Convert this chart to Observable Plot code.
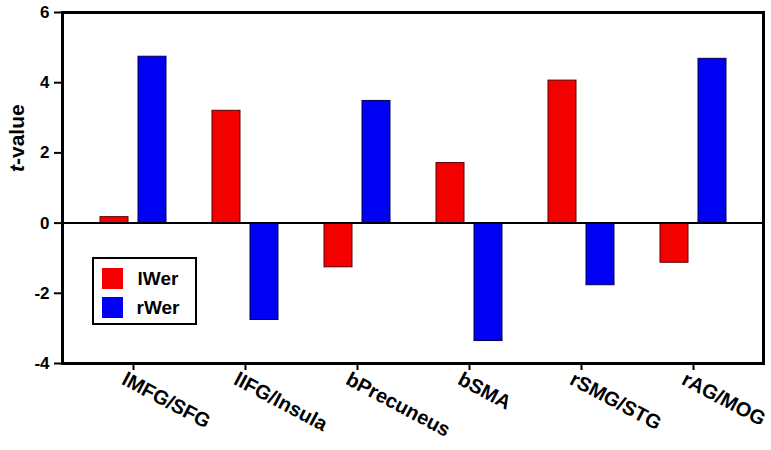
<!DOCTYPE html>
<html>
<head>
<meta charset="utf-8">
<script src="https://cdn.jsdelivr.net/npm/d3@7"></script>
<script src="https://cdn.jsdelivr.net/npm/@observablehq/plot@0.6"></script>
<style>
  html, body { margin: 0; padding: 0; background: #fff; }
  #wrap { position: relative; width: 771px; height: 450px; font-family: "Liberation Sans", Arial, sans-serif; }
  #legend { position: absolute; left: 92px; top: 257px; width: 101px; height: 64px; border: 2px solid #000; background: #fff; }
  .li { position: absolute; left: 8px; width: 21px; height: 21px; }
  .lt { position: absolute; left: 36px; width: 56px; text-align: center; font-weight: bold; font-size: 19px; line-height: 21px; }
</style>
</head>
<body>
<div id="wrap"></div>
<script>
const categories = ["lMFG/SFG", "lIFG/Insula", "bPrecuneus", "bSMA", "rSMG/STG", "rAG/MOG"];
const seriesNames = ["lWer", "rWer"];
const seriesColors = ["#f50000", "#0000f5"];
const lWer = [0.17, 3.2, -1.26, 1.71, 4.06, -1.13];
const rWer = [4.74, -2.76, 3.48, -3.36, -1.77, 4.68];
const yTicks = [-4, -2, 0, 2, 4, 6];

const rowsL = categories.map((c, i) => ({cat: c, v: lWer[i]}));
const rowsR = categories.map((c, i) => ({cat: c, v: rWer[i]}));

const chart = Plot.plot({
  width: 771,
  height: 450,
  marginTop: 12,
  marginBottom: 87,
  marginLeft: 62,
  marginRight: 8,
  style: {fontFamily: "'Liberation Sans', Arial, sans-serif", background: "#fff"},
  x: {domain: categories, paddingInner: 0.752, paddingOuter: 0.478, axis: null},
  y: {domain: [-4, 6], axis: null},
  marks: [
    Plot.barY(rowsL, {x: "cat", y: "v", fill: seriesColors[0], stroke: "#5a0000", strokeWidth: 1, dx: -19}),
    Plot.barY(rowsR, {x: "cat", y: "v", fill: seriesColors[1], stroke: "#00005a", strokeWidth: 1, dx: 19}),
    Plot.ruleY([0], {stroke: "#000", strokeWidth: 2}),
    Plot.frame({stroke: "#000", strokeWidth: 3}),
    Plot.axisY({ticks: yTicks, tickSize: 8, tickPadding: 5, strokeWidth: 2, fontSize: 17, fontWeight: "bold", label: null, tickFormat: d => String(d)}),
    Plot.axisX({tickSize: 7, strokeWidth: 2, tickFormat: () => "", label: null}),
    Plot.text(categories, {x: d => d, frameAnchor: "bottom", text: d => d, rotate: 28, textAnchor: "start", dx: -13, dy: 20, fontSize: 20, fontWeight: "bold", fill: "#000"}),
    Plot.text(["t-value"], {frameAnchor: "left", text: d => d, rotate: -90, dx: -45, dy: -16, fontSize: 21, fontWeight: "bold", fill: "#000"})
  ]
});

const wrap = document.getElementById("wrap");
wrap.appendChild(chart);

// italic "t" in axis label
const lbl = [...chart.querySelectorAll("text")].find(t => t.textContent === "t-value");
if (lbl) {
  lbl.textContent = "";
  const ns = "http://www.w3.org/2000/svg";
  const a = document.createElementNS(ns, "tspan"); a.setAttribute("font-style", "italic"); a.textContent = "t";
  const b = document.createElementNS(ns, "tspan"); b.textContent = "-value";
  lbl.appendChild(a); lbl.appendChild(b);
}

const legend = document.createElement("div");
legend.id = "legend";
seriesNames.forEach((name, i) => {
  const sw = document.createElement("div");
  sw.className = "li"; sw.style.top = (9 + i * 29) + "px"; sw.style.background = seriesColors[i];
  const tx = document.createElement("div");
  tx.className = "lt"; tx.style.top = (9 + i * 29) + "px"; tx.textContent = name;
  legend.appendChild(sw); legend.appendChild(tx);
});
wrap.appendChild(legend);
</script>
</body>
</html>
